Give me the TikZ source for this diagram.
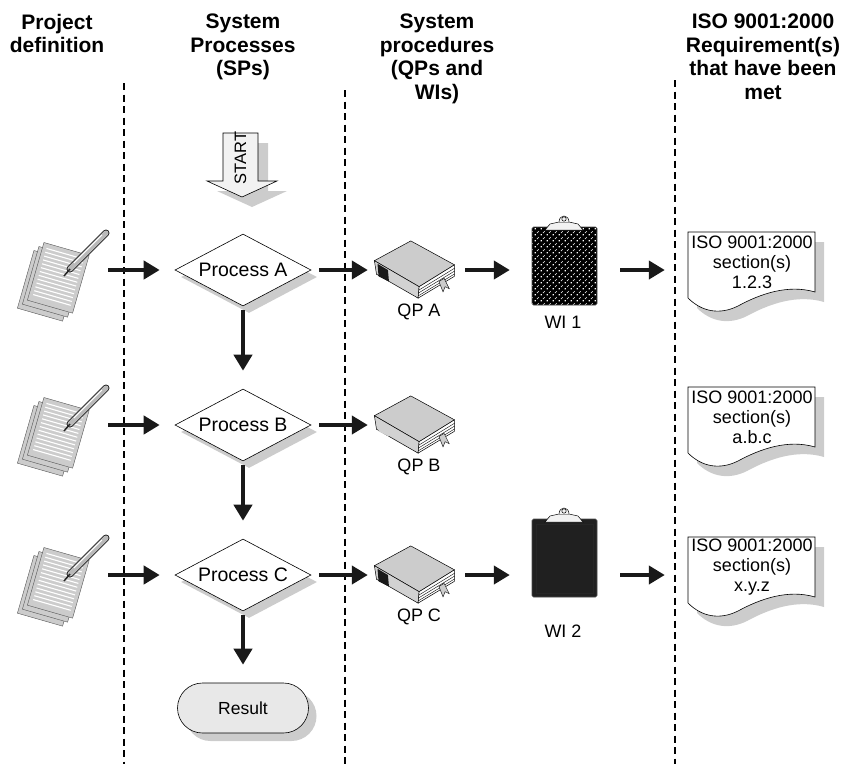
\documentclass[tikz,border=0pt]{standalone}
\usepackage{fontspec}
\setmainfont{Liberation Sans}
\usetikzlibrary{arrows.meta, shapes.geometric, shadows, patterns.meta, calc}

% white dots and dashes for the patterned clipboard
\tikzdeclarepattern{
  name=weave,
  type=uncolored,
  bottom left={(0pt,0pt)},
  top right={(6pt,6pt)},
  tile size={(6pt,6pt)},
  code={
    \fill (0.6pt,0.6pt) rectangle (2.2pt,2.2pt);
    \draw[line width=0.7pt] (3.4pt,3.4pt) -- (5.4pt,5.4pt);
  }
}

\begin{document}
\begin{tikzpicture}[
    x=1pt, y=-1pt,
    font=\fontsize{18}{21}\selectfont,
    heading/.style={font=\fontsize{21}{23.5}\selectfont\bfseries, align=center, anchor=north, inner sep=0pt},
    divider/.style={line width=1.6pt, dash pattern=on 7pt off 4.5pt},
    process/.style={diamond, aspect=2, draw=black, line width=0.6pt, fill=white, minimum width=136pt, minimum height=72pt, inner sep=0pt,
        font=\fontsize{19.5}{22}\selectfont, drop shadow={shadow xshift=6pt, shadow yshift=-7pt, fill=gray!40, opacity=1}},
    result/.style={rectangle, rounded corners=25pt, draw=black, line width=0.6pt, fill=gray!18, minimum width=131pt, minimum height=50pt,
        font=\fontsize{17.5}{20}\selectfont, drop shadow={shadow xshift=8pt, shadow yshift=-8pt, fill=gray!40, opacity=1}},
    iconbox/.style={rectangle, inner sep=0pt},
    caption/.style={inner sep=0pt},
    isotext/.style={align=center, font=\fontsize{18}{20}\selectfont, inner sep=0pt, minimum width=144pt},
    flow/.style={line width=4.5pt, black!90, -{Triangle[length=16pt, width=18pt]}, shorten <=8pt, shorten >=15pt},
    drop/.style={flow, shorten <=4pt, shorten >=18pt},
    boardweave/.style={preaction={fill=black}, pattern=weave, pattern color=white},
    boardplain/.style={fill=gray!25!black},
    % sheets of paper with a pen
    pics/paperstack/.style={code={
        \foreach \s in {2,1,0} {
          \begin{scope}[shift={(-5*\s,4*\s)}, rotate=-16]
            \filldraw[fill=gray!40, draw=gray!65!black, line width=0.4pt] (-20,-26) rectangle (27,34);
            \foreach \r in {-21,-17,...,30}
              \draw[white, line width=1.1pt] (-16,\r) -- (23,\r);
          \end{scope}
        }
        \draw[gray!30!black, line width=7pt, line cap=round] (14,-4) -- (50,-40);
        \draw[gray!55, line width=5pt, line cap=round] (14,-4) -- (50,-40);
        \draw[white, line width=0.8pt] (18,-10) -- (46,-38);
        \draw[gray!30!black, line width=1.5pt] (8,3) -- (14,-4);
    }},
    % closed book lying on its side
    pics/book/.style={code={
        \begin{scope}[scale=1.04]
        \filldraw[fill=gray!40, draw=black, line width=0.5pt] (-40,-8) -- (-5,-27) -- (37,-4) -- (3,17) -- cycle;
        \filldraw[fill=gray!35, draw=black, line width=0.5pt] (-40,-8) -- (3,17) -- (2,28) -- (-38,5) -- cycle;
        \fill[#1] (-37,-5) -- (-27,1) -- (-26,12) -- (-36,7) -- cycle;
        \filldraw[fill=white, draw=black, line width=0.5pt] (3,17) -- (37,-4) -- (37,7) -- (2,28) -- cycle;
        \foreach \t in {0.3,0.55,0.8}
          \draw[line width=0.4pt] ($(3,17)!\t!(2,28)$) -- ($(37,-4)!\t!(37,7)$);
        \filldraw[fill=gray!40, draw=black, line width=0.4pt] (22,12) -- (27,9) -- (32,19) -- (28,17) -- (26,22) -- cycle;
        \end{scope}
    }},
    % clipboard, board style and inner rim
    pics/clipboard/.style 2 args={code={
        \filldraw[#1, draw=gray!60!black, line width=0.6pt, rounded corners=1.5pt] (-32,-39) rectangle (33,39);
        \draw[#2] (-28,-34) rectangle (29,35);
        \filldraw[fill=gray!10, draw=black, line width=0.5pt] (-19,-36) -- (19,-36) -- (14,-42) -- (5,-44) -- (-5,-44) -- (-14,-42) -- cycle;
        \filldraw[fill=gray!10, draw=black, line width=0.5pt] (-5,-44) .. controls (-5,-52) and (5,-52) .. (5,-44);
        \draw[line width=0.5pt] (0,-47) circle[radius=2.2pt];
    }},
    % page with a wavy lower edge
    pics/isosheet/.style={code={
        \fill[gray!40, shift={(9,10)}] (0,0) -- (127,0) -- (127,60) .. controls (100,52) and (72,62) .. (50,74)
            .. controls (32,83) and (14,80) .. (0,66) -- cycle;
        \filldraw[fill=white, draw=black, line width=0.6pt] (0,0) -- (127,0) -- (127,60) .. controls (100,52) and (72,62) .. (50,74)
            .. controls (32,83) and (14,80) .. (0,66) -- cycle;
    }}
]
\useasboundingbox (0,0) rectangle (843,764);

% Column headings
\node (hproj) [heading] at (57,14) {Project\\definition};
\node (hsys) [heading] at (243,14) {System\\Processes\\(SPs)};
\node (hproc) [heading] at (437,14) {System\\procedures\\(QPs and\\WIs)};
\node (hiso) [heading] at (763,14) {ISO 9001:2000\\Requirement(s)\\that have been\\met};

% Column dividers
\draw [divider] (124,83) -- (124,764);
\draw [divider] (345,90) -- (345,764);
\draw [divider] (675,80) -- (675,764);

% Start arrow
\fill [gray!40] (233,143) -- (268,143) -- (268,191) -- (287,191) -- (252,207) -- (217,191) -- (233,191) -- cycle;
\filldraw [fill=gray!10, draw=black, line width=0.6pt] (223,133) -- (258,133) -- (258,181) -- (277,181) -- (242,197) -- (207,181) -- (223,181) -- cycle;
\node (start) [rotate=90, inner sep=0pt, font=\fontsize{16.5}{16.5}\selectfont] at (240.5,158) {START};

% Process chain
\node (proca) [process] at (243,270) {Process A};
\node (procb) [process] at (243,425) {Process B};
\node (procc) [process] at (243,575) {Process C};
\node (result) [result] at (243,708) {Result};

% Project definition icons
\node (defa) [iconbox, minimum width=86pt, minimum height=88pt] at (57,270) {};
\node (defb) [iconbox, minimum width=86pt, minimum height=88pt] at (57,425) {};
\node (defc) [iconbox, minimum width=86pt, minimum height=88pt] at (57,575) {};
\pic at (56,273) {paperstack};
\pic at (56,428) {paperstack};
\pic at (56,578) {paperstack};

% Quality procedures
\node (qpa) [iconbox, minimum width=74pt, minimum height=60pt] at (420,270) {};
\node (qpb) [iconbox, minimum width=74pt, minimum height=60pt] at (420,425) {};
\node (qpc) [iconbox, minimum width=74pt, minimum height=60pt] at (420,575) {};
\pic at (416,269) {book=gray!20!black};
\pic at (416,424) {book=gray!35};
\pic at (416,574) {book=gray!20!black};
\node (qpalabel) [caption] at (419,312) {QP A};
\node (qpblabel) [caption] at (419,467) {QP B};
\node (qpclabel) [caption] at (419,617) {QP C};

% Work instructions
\node (wia) [iconbox, minimum width=87pt, minimum height=90pt] at (568.5,270) {};
\node (wib) [iconbox, minimum width=87pt, minimum height=90pt] at (568.5,575) {};
\pic at (564,266) {clipboard={boardweave}{draw=none}};
\pic at (564,558) {clipboard={boardplain}{draw=black!85, line width=1pt}};
\node (walabel) [caption] at (563,322) {WI 1};
\node (wblabel) [caption] at (563,631) {WI 2};

% Requirement sheets
\pic at (688,232) {isosheet};
\pic at (688,387) {isosheet};
\pic at (688,537) {isosheet};
\node (isoa) [isotext] at (752,262) {ISO 9001:2000\\section(s)\\1.2.3};
\node (isob) [isotext] at (752,417) {ISO 9001:2000\\section(s)\\a.b.c};
\node (isoc) [isotext] at (752,567) {ISO 9001:2000\\section(s)\\x.y.z};

% Row A
\draw [flow] (defa) -- (proca);
\draw [flow] (proca) -- (qpa);
\draw [flow] (qpa) -- (wia);
\draw [flow] (wia) -- (wia -| isoa.west);

% Row B
\draw [flow] (defb) -- (procb);
\draw [flow] (procb) -- (qpb);

% Row C
\draw [flow] (defc) -- (procc);
\draw [flow] (procc) -- (qpc);
\draw [flow] (qpc) -- (wib);
\draw [flow] (wib) -- (wib -| isoc.west);

% Down the process column
\draw [drop] (proca) -- (procb);
\draw [drop] (procb) -- (procc);
\draw [drop] (procc) -- (result);

\end{tikzpicture}
\end{document}
